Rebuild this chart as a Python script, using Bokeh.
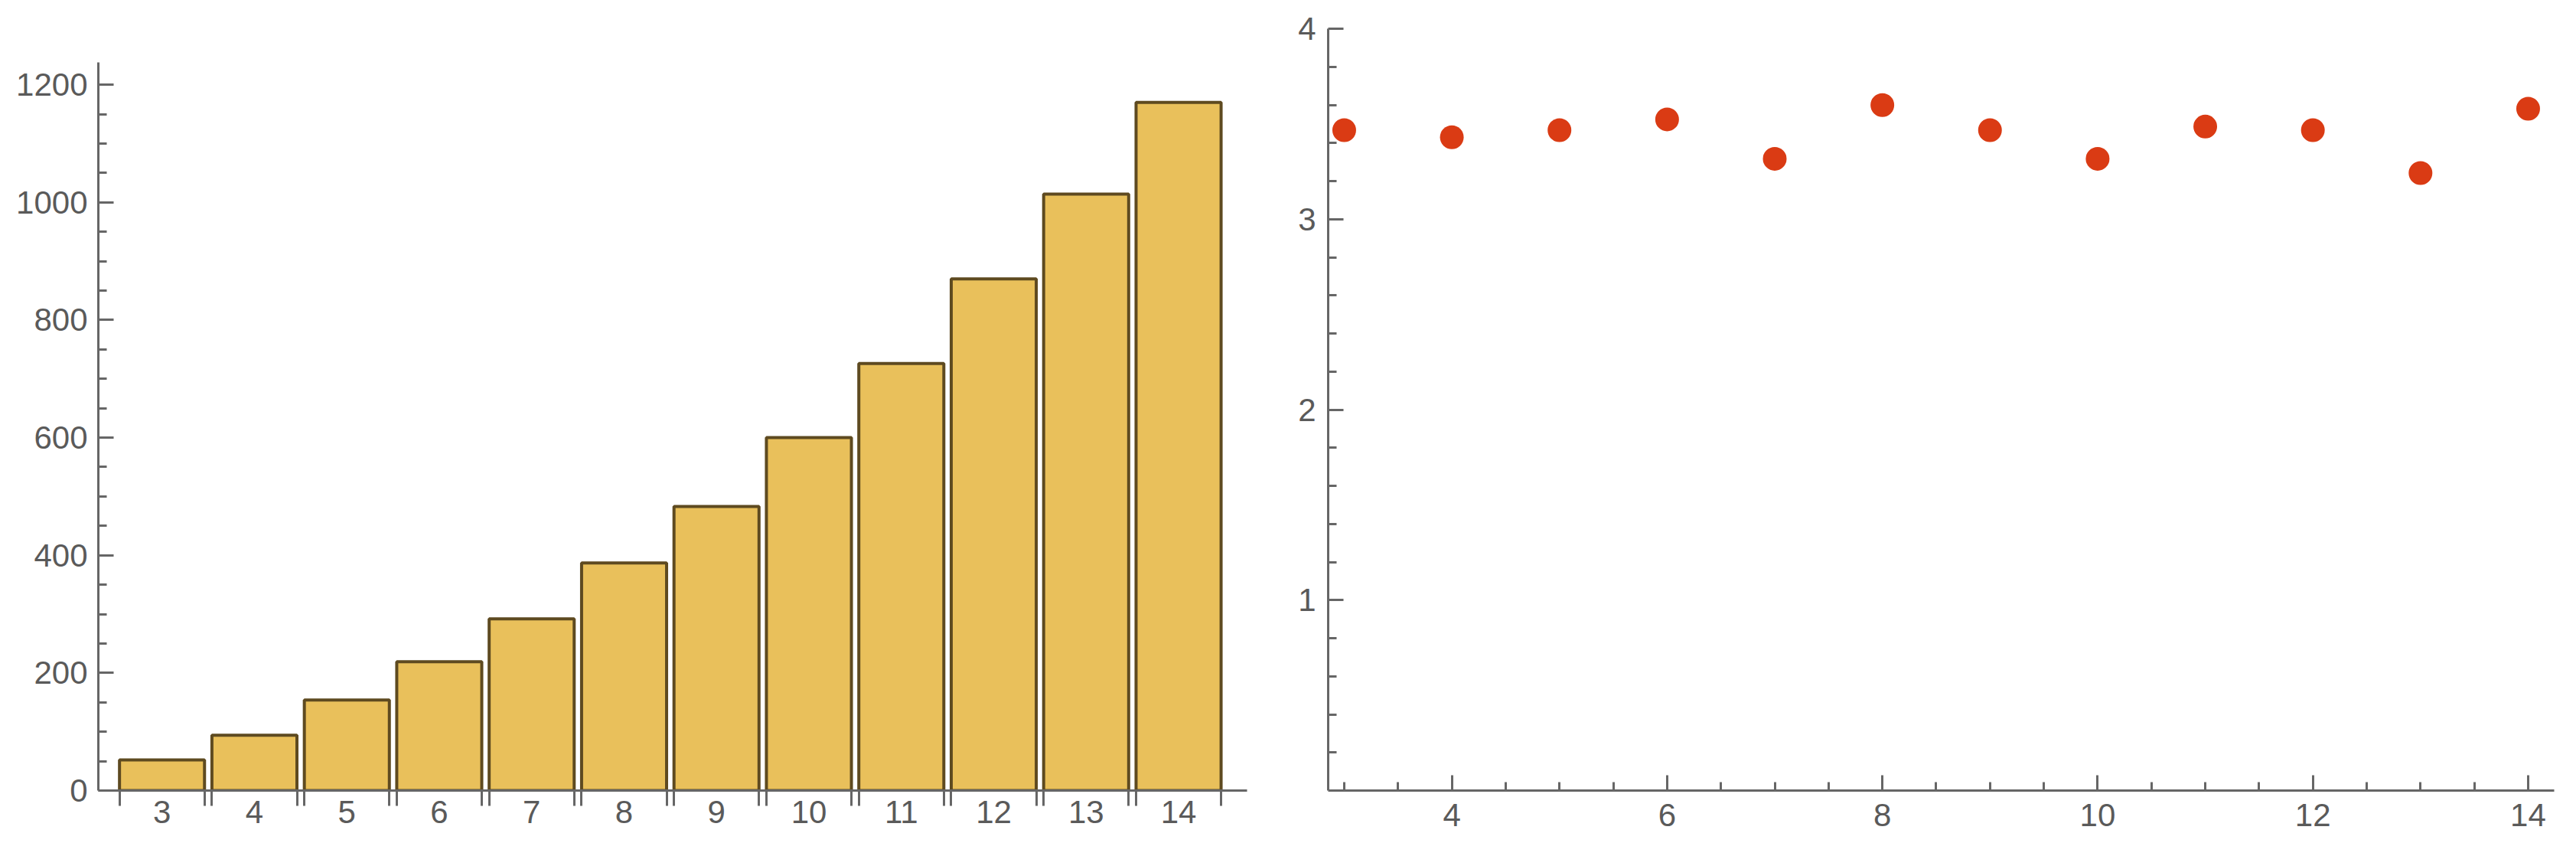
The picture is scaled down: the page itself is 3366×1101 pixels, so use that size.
from bokeh.plotting import figure
from bokeh.layouts import row
from bokeh.models import Range1d, FixedTicker
from bokeh.embed import file_html
from bokeh.resources import INLINE

# ---- data ----
n_values = [3, 4, 5, 6, 7, 8, 9, 10, 11, 12, 13, 14]
bar_values = [52, 94, 154, 219, 292, 387, 483, 600, 726, 870, 1014, 1170]
point_values = [3.467, 3.430, 3.467, 3.524, 3.317, 3.599, 3.467, 3.317,
                3.486, 3.467, 3.242, 3.580]

left_y_ticks = [0, 200, 400, 600, 800, 1000, 1200]
left_y_minor = [v for v in range(0, 1250, 50) if v % 200]
right_x_ticks = [4, 6, 8, 10, 12, 14]
right_x_minor = [k / 2 for k in range(6, 29) if k % 4]
right_y_ticks = [1, 2, 3, 4]
right_y_minor = [k / 5 for k in range(1, 20) if k % 5]

BAR_W = 0.92
FONT = "Liberation Sans"
FONT_SIZE = "42px"
AXIS_COLOR = "#666666"
LABEL_COLOR = "#5a5a5a"
FRAME_H = 995
TOP = 37
BOTTOM = 66


def style_axis(ax, standoff):
    ax.axis_line_color = AXIS_COLOR
    ax.axis_line_width = 3
    ax.major_tick_line_color = AXIS_COLOR
    ax.major_tick_line_width = 3
    ax.minor_tick_line_color = AXIS_COLOR
    ax.minor_tick_line_width = 3
    ax.major_label_text_font = FONT
    ax.major_label_text_font_size = FONT_SIZE
    ax.major_label_text_color = LABEL_COLOR
    ax.major_label_standoff = standoff


# ---- left: bar chart ----
# the y axis of the bar chart stops at 1238; the frame continues above it
p1 = figure(frame_width=1501, frame_height=FRAME_H,
            min_border_left=128, min_border_right=46,
            min_border_top=TOP, min_border_bottom=BOTTOM,
            x_range=Range1d(2.311, 14.741), y_range=Range1d(0, 1295.2),
            output_backend="svg", toolbar_location=None)
p1.vbar(x=n_values, top=bar_values, width=BAR_W, bottom=0,
        fill_color="#E9C05B", line_color="#5E4A20", line_width=4)

edges = [n - BAR_W / 2 for n in n_values] + [n + BAR_W / 2 for n in n_values]
p1.xaxis.ticker = FixedTicker(ticks=n_values, minor_ticks=edges)
p1.yaxis.ticker = FixedTicker(ticks=left_y_ticks, minor_ticks=left_y_minor)
for ax in p1.xaxis:
    # label offset includes the 20px outward edge ticks, so pull labels back up
    style_axis(ax, -7)
    ax.major_tick_in = 0
    ax.major_tick_out = 0
    ax.minor_tick_in = 0
    ax.minor_tick_out = 20
for ax in p1.yaxis:
    style_axis(ax, 14)
    ax.bounds = (0, 1238)
    ax.major_tick_in = 20
    ax.major_tick_out = 0
    ax.minor_tick_in = 11
    ax.minor_tick_out = 0

# ---- right: point plot ----
p2 = figure(frame_width=1602, frame_height=FRAME_H,
            min_border_left=60, min_border_right=27,
            min_border_top=TOP, min_border_bottom=BOTTOM,
            x_range=Range1d(2.851, 14.242), y_range=Range1d(0, 4),
            output_backend="svg", toolbar_location=None)
p2.scatter(x=n_values, y=point_values, marker="circle", size=31,
           fill_color="#DA3B14", line_color=None)
p2.xaxis.ticker = FixedTicker(ticks=right_x_ticks, minor_ticks=right_x_minor)
p2.yaxis.ticker = FixedTicker(ticks=right_y_ticks, minor_ticks=right_y_minor)
for ax in list(p2.xaxis) + list(p2.yaxis):
    style_axis(ax, 16)
    ax.major_tick_in = 20
    ax.major_tick_out = 0
    ax.minor_tick_in = 11
    ax.minor_tick_out = 0
p2.xaxis.major_label_standoff = 17

for p in (p1, p2):
    p.grid.visible = False
    p.outline_line_color = None
    p.background_fill_color = "white"
    p.border_fill_color = "white"

layout = row(p1, p2)
open("out.html", "w").write(file_html(layout, INLINE))
